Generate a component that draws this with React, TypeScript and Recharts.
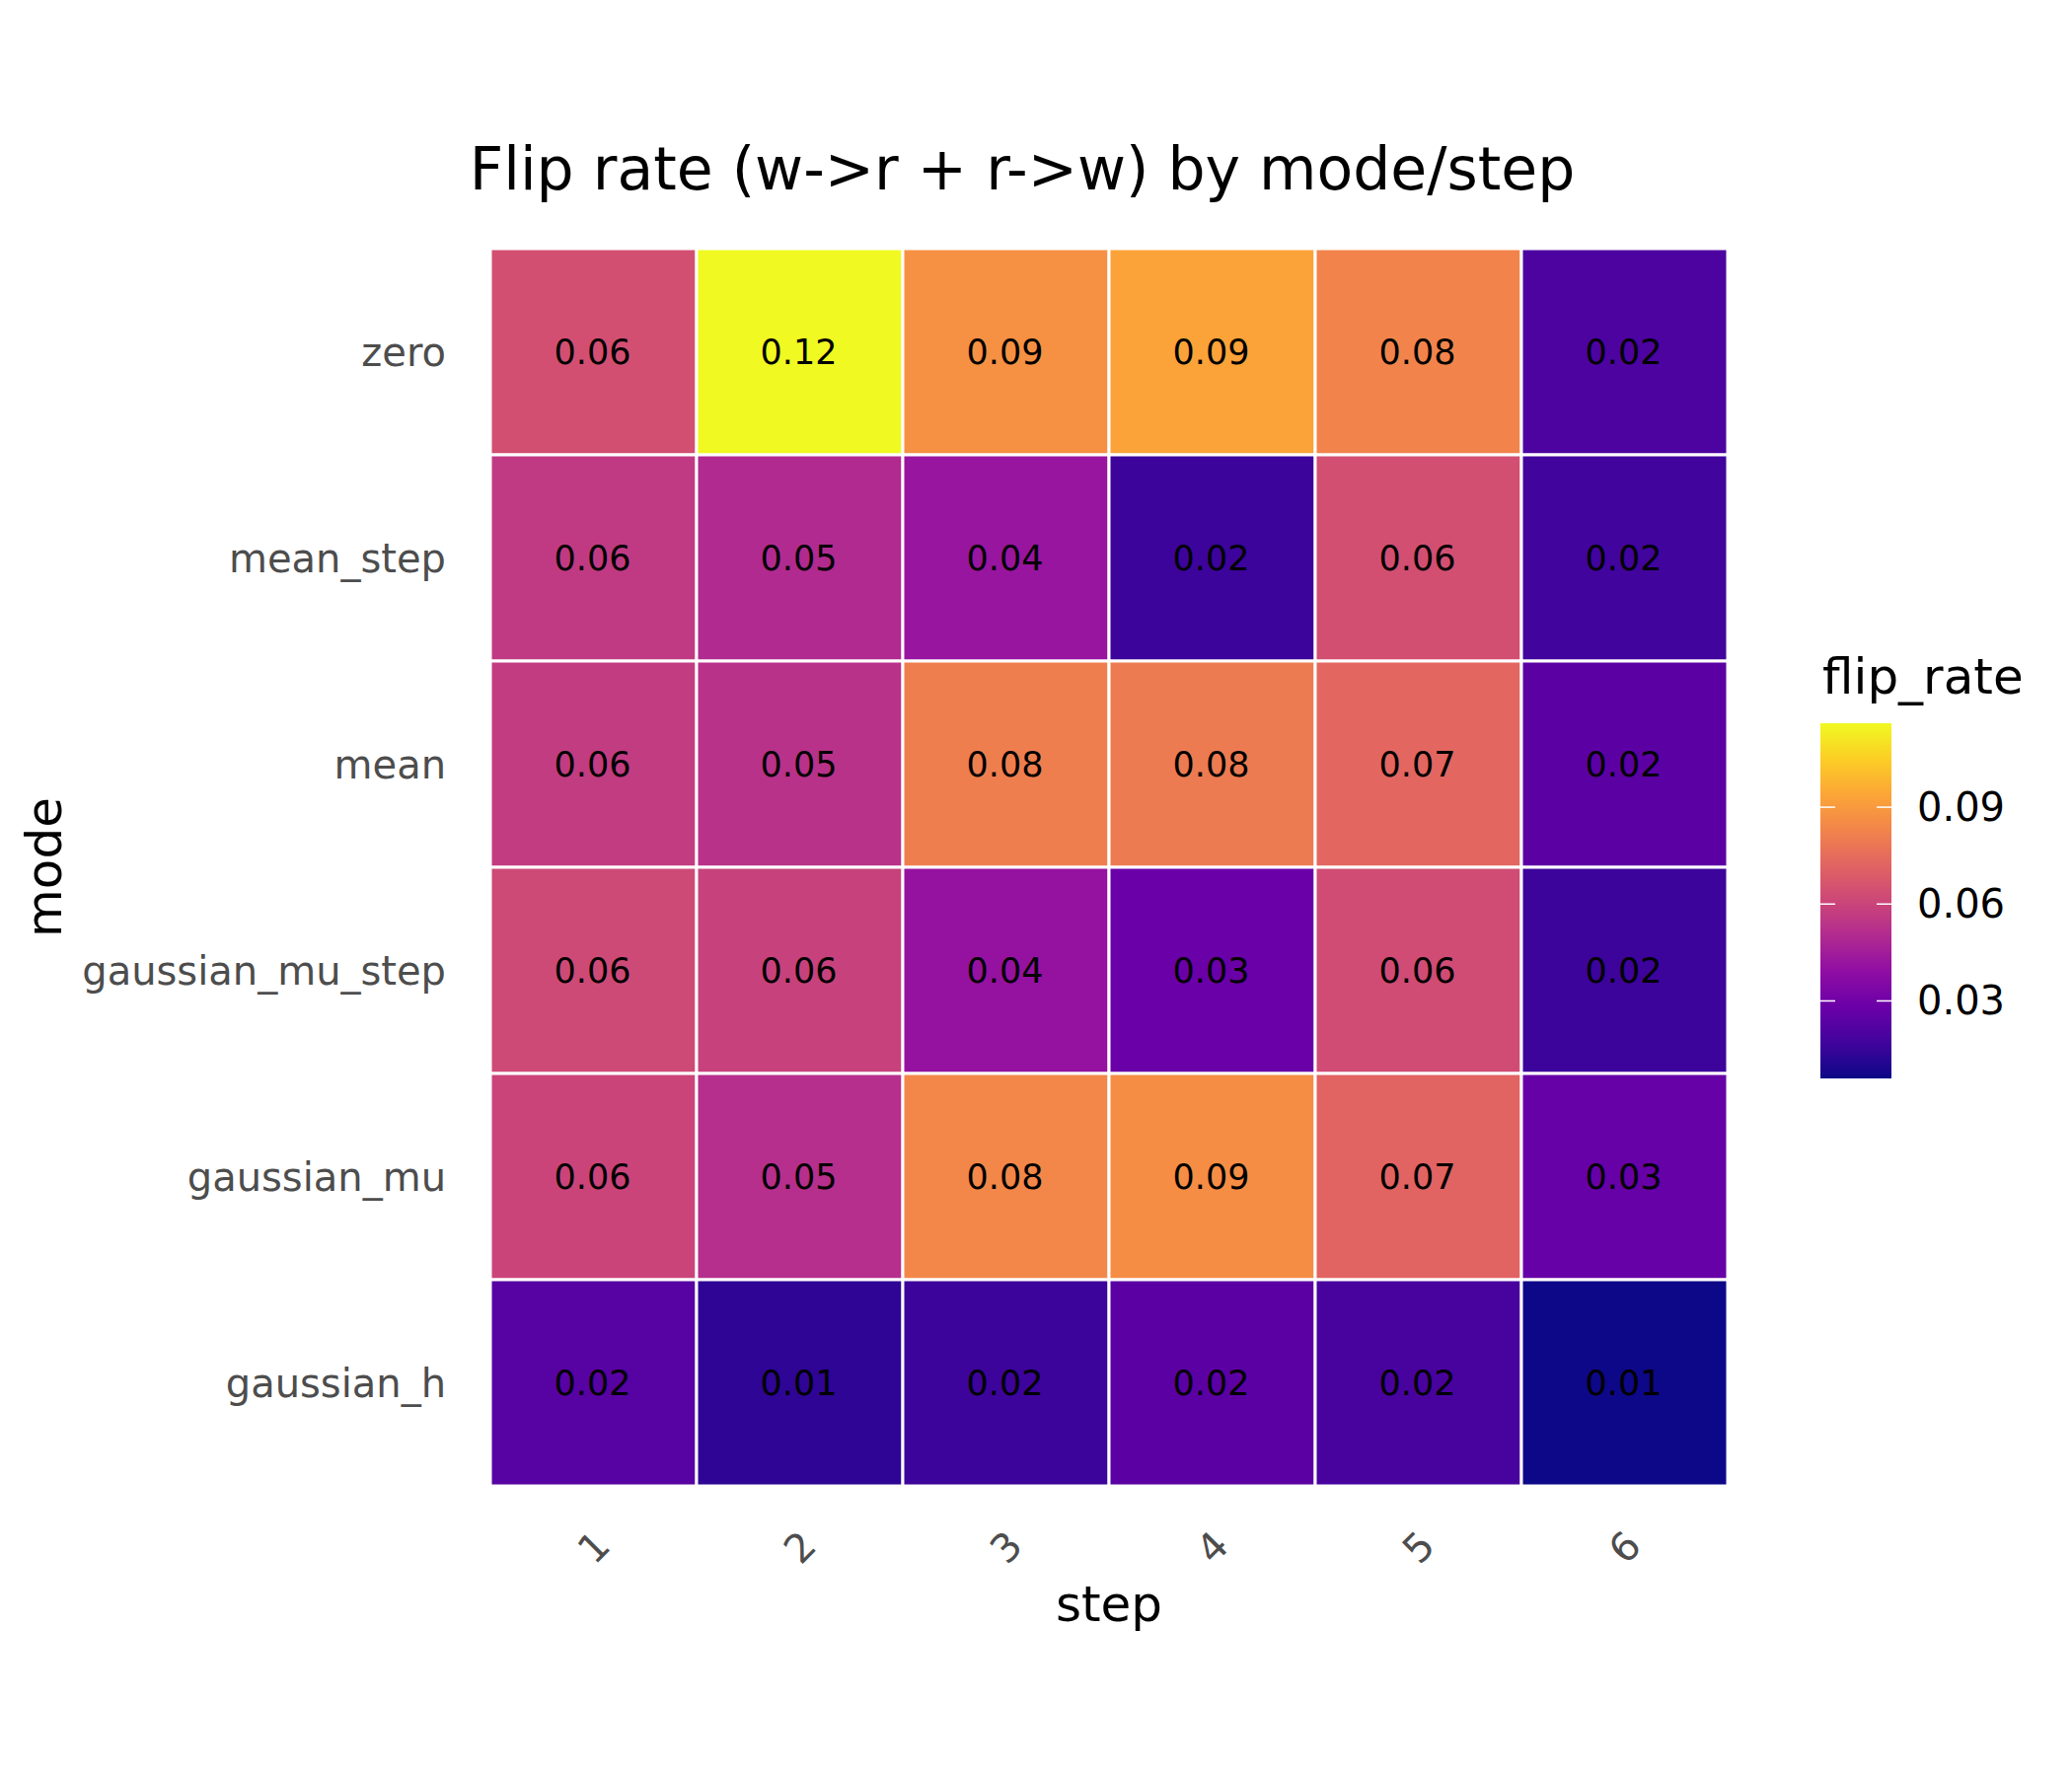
import { Label, Legend, Scatter, ScatterChart, XAxis, YAxis } from 'recharts'

const modes = ['zero', 'mean_step', 'mean', 'gaussian_mu_step', 'gaussian_mu', 'gaussian_h']
const steps = [1, 2, 3, 4, 5, 6]

// flip_rate per mode, one value per step
const zero = [0.064, 0.116, 0.087, 0.093, 0.083, 0.02]
const meanStep = [0.056, 0.05, 0.042, 0.016, 0.064, 0.017]
const mean = [0.057, 0.053, 0.081, 0.08, 0.073, 0.024]
const gaussianMuStep = [0.062, 0.059, 0.041, 0.028, 0.063, 0.016]
const gaussianMu = [0.06, 0.052, 0.084, 0.086, 0.072, 0.027]
const gaussianH = [0.023, 0.013, 0.016, 0.024, 0.019, 0.006]

const legendTicks = [0.03, 0.06, 0.09]

const rows = [zero, meanStep, mean, gaussianMuStep, gaussianMu, gaussianH]

const FONT = '"DejaVu Sans", sans-serif'
const W = 2100
const H = 1800
const margin = { top: 252, right: 349, bottom: 44, left: 17 }
const Y_AXIS_W = 480
const X_AXIS_H = 250
const cellW = (W - margin.left - Y_AXIS_W - margin.right) / steps.length
const cellH = (H - margin.top - margin.bottom - X_AXIS_H) / modes.length

// matplotlib plasma, sampled at tenths
const PLASMA = ['#0d0887', '#41049d', '#6a00a8', '#8f0da4', '#b12a90', '#cc4778', '#e16462', '#f2844b', '#fca636', '#fcce25', '#f0f921']

const allValues = rows.flat()
const vMin = Math.min(...allValues)
const vMax = Math.max(...allValues)

function hexToRgb(h: string) {
  return [1, 3, 5].map((i) => parseInt(h.slice(i, i + 2), 16))
}

function plasma(t: number) {
  const c = Math.max(0, Math.min(1, t)) * (PLASMA.length - 1)
  const i = Math.min(Math.floor(c), PLASMA.length - 2)
  const f = c - i
  const a = hexToRgb(PLASMA[i])
  const b = hexToRgb(PLASMA[i + 1])
  const m = a.map((v, k) => Math.round(v + (b[k] - v) * f))
  return `rgb(${m[0]},${m[1]},${m[2]})`
}

const norm = (v: number) => (v - vMin) / (vMax - vMin)

const cells = rows.flatMap((vals, r) =>
  vals.map((v, c) => ({ x: steps[c], y: r + 1, v, mode: modes[r] }))
)

function Tile(props: any) {
  const { cx, cy, payload } = props
  return (
    <g>
      <rect
        x={cx - cellW / 2}
        y={cy - cellH / 2}
        width={cellW}
        height={cellH}
        fill={plasma(norm(payload.v))}
        stroke="#ffffff"
        strokeWidth={3}
      />
      <text x={cx - 1} y={cy} textAnchor="middle" dominantBaseline="central" fontSize={35} fontFamily={FONT} fill="#000">
        {payload.v.toFixed(2)}
      </text>
    </g>
  )
}

function XTick(props: any) {
  const { x, y, payload } = props
  const cy = y + 62
  return (
    <text
      x={x}
      y={cy}
      transform={`rotate(-45 ${x} ${cy})`}
      textAnchor="middle"
      dominantBaseline="central"
      fontSize={40}
      fontFamily={FONT}
      fill="#4d4d4d"
    >
      {payload.value}
    </text>
  )
}

function YTick(props: any) {
  const { x, y, payload } = props
  return (
    <text x={x - 45} y={y} textAnchor="end" dominantBaseline="central" fontSize={40} fontFamily={FONT} fill="#4d4d4d">
      {modes[payload.value - 1]}
    </text>
  )
}

function ColorBar() {
  const barX = 15
  const barY = 93
  const barW = 72
  const barH = 360
  const yOf = (v: number) => barY + barH - norm(v) * barH
  return (
    <svg width={260} height={470} style={{ display: 'block' }}>
      <defs>
        <linearGradient id="plasmaBar" x1="0" y1="1" x2="0" y2="0">
          {PLASMA.map((c, i) => (
            <stop key={i} offset={i / (PLASMA.length - 1)} stopColor={c} />
          ))}
        </linearGradient>
      </defs>
      <text x={17} y={63} fontSize={50} fontFamily={FONT} fill="#000">
        flip_rate
      </text>
      <rect x={barX} y={barY} width={barW} height={barH} fill="url(#plasmaBar)" />
      {legendTicks.map((t) => (
        <g key={t}>
          <line x1={barX} x2={barX + 15} y1={yOf(t)} y2={yOf(t)} stroke="#fff" strokeWidth={1.5} />
          <line x1={barX + barW - 15} x2={barX + barW} y1={yOf(t)} y2={yOf(t)} stroke="#fff" strokeWidth={1.5} />
          <text x={113} y={yOf(t)} dominantBaseline="central" fontSize={40} fontFamily={FONT} fill="#000">
            {t.toFixed(2)}
          </text>
        </g>
      ))}
    </svg>
  )
}

export default function App() {
  return (
    <div style={{ position: 'absolute', left: 0, top: 0, width: W, height: H, background: '#fff', fontFamily: FONT }}>
      <ScatterChart width={W} height={H} margin={margin}>
        <XAxis
          type="number"
          dataKey="x"
          domain={[0.5, 6.5]}
          ticks={steps}
          interval={0}
          height={X_AXIS_H}
          axisLine={false}
          tickLine={false}
          tickSize={0}
          tickMargin={0}
          tick={<XTick />}
        >
          <Label
            content={(p: any) => {
              const vb = p.viewBox
              return (
                <text x={vb.x + vb.width / 2} y={vb.y + 137} textAnchor="middle" fontSize={50} fontFamily={FONT} fill="#000">
                  step
                </text>
              )
            }}
          />
        </XAxis>
        <YAxis
          type="number"
          dataKey="y"
          domain={[0.5, 6.5]}
          ticks={[1, 2, 3, 4, 5, 6]}
          interval={0}
          reversed
          width={Y_AXIS_W}
          axisLine={false}
          tickLine={false}
          tickSize={0}
          tickMargin={0}
          tick={<YTick />}
        >
          <Label
            content={(p: any) => {
              const vb = p.viewBox
              const lx = vb.x + 45
              const ly = vb.y + vb.height / 2
              return (
                <text x={lx} y={ly} transform={`rotate(-90 ${lx} ${ly})`} textAnchor="middle" fontSize={50} fontFamily={FONT} fill="#000">
                  mode
                </text>
              )
            }}
          />
        </YAxis>
        <Legend
          layout="vertical"
          align="center"
          verticalAlign="middle"
          wrapperStyle={{ left: 1830, top: 640, width: 260, height: 470 }}
          content={() => <ColorBar />}
        />
        <Scatter data={cells} shape={<Tile />} isAnimationActive={false} />
      </ScatterChart>
      <svg width={W} height={300} style={{ position: 'absolute', left: 0, top: 0, pointerEvents: 'none' }}>
        <text x={1036} y={192} textAnchor="middle" fontSize={60} fontFamily={FONT} fill="#000">
          Flip rate (w-&gt;r + r-&gt;w) by mode/step
        </text>
      </svg>
    </div>
  )
}
